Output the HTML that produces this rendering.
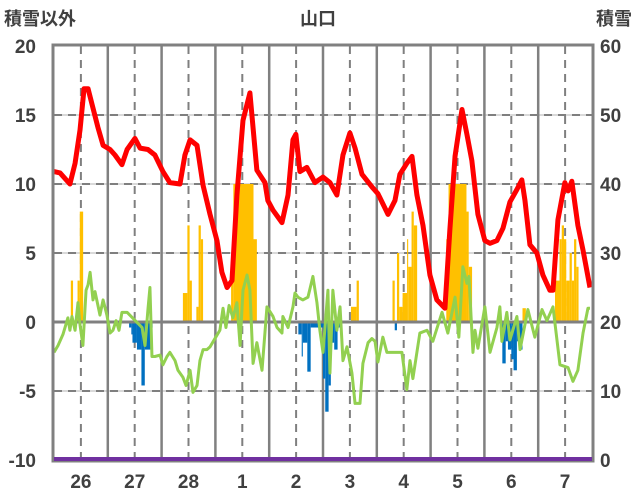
<!DOCTYPE html>
<html><head><meta charset="utf-8">
<style>
body{margin:0;background:#fff;}
svg{display:block;}
text{font-family:"Liberation Sans","Noto Sans CJK JP",sans-serif;fill:#404040;font-weight:600;}
</style></head>
<body>
<svg id="chart" width="636" height="501">
<text x="4" y="25" font-size="18">積雪以外</text>
<text x="318" y="25" font-size="18" text-anchor="middle">山口</text>
<text x="632" y="25" font-size="18" text-anchor="end">積雪</text>
<g id="grid"></g><g id="bars"></g><g id="lines"></g><g id="axes"></g>
</svg>
<script>
const dayLabels=["26","27","28","1","2","3","4","5","6","7"];
const leftTicks=[20,15,10,5,0,-5,-10];
const rightTicks=[60,50,40,30,20,10,0];
const redHours=[0,2.7,7.1,9.4,11.6,13.4,15.2,17.4,19.6,21.9,25,27.2,30.3,32.6,36.1,38.4,41.9,45,48.6,51.7,56.2,58.4,60.7,63.8,66.5,69.6,72.7,74.9,77.2,79.4,81.6,84.3,87.4,90.5,94.1,95.4,97.7,101.7,104.4,106.6,107.9,109.7,112.8,116.4,120,123.1,126.2,128.9,132,134.3,137.4,142.3,144.5,149,152.1,154.3,157.4,159.7,161.9,164.6,167.7,170.8,174.4,176.6,178.9,182,184.2,186.4,189.1,192.2,194.5,197.6,200.3,203.4,206.5,208.7,210.1,212.3,215.4,218.1,221.2,222.6,224.8,227.9,229.3,231,233.7,236,239.1];
const redVals=[10.9,10.8,10.0,11.5,13.9,16.9,16.9,15.5,14.1,12.8,12.5,12.1,11.4,12.5,13.3,12.6,12.5,12.1,10.9,10.1,10.0,12.1,13.2,12.8,9.9,7.8,5.9,3.6,2.5,3.0,9.2,14.6,16.6,11.0,10.1,8.8,8.1,7.2,9.2,13.2,13.6,10.9,11.2,10.1,10.5,10.1,9.2,12.1,13.7,12.6,10.7,9.7,9.3,7.8,8.8,10.7,11.5,12.0,9.2,7.0,3.4,1.6,1.0,6.7,12.0,15.4,13.6,11.7,7.8,5.9,5.7,5.9,6.8,8.7,9.6,10.3,8.8,5.6,5.0,3.4,2.3,2.3,7.4,10.1,9.5,10.2,7.0,5.2,2.5];
const greenHours=[0,1.8,4,6.2,7.1,8,9.4,10.7,11.6,12.9,14.3,15.2,16.1,17.4,18.3,19.6,20.5,21.9,23.6,25,26.3,27.7,29,30.3,32.6,39.3,40.6,41.9,42.8,43.7,45,47.3,48.6,50.4,51.7,54,55.3,57.5,58.9,60.7,62,63.8,65.1,66.5,68.2,69.6,71.8,74,75.4,76.7,78.1,79.8,81.6,83,84.3,86.1,87.4,88.8,90.5,92.8,95,97.7,99.5,101.7,102.1,104.4,106.6,107.5,108.8,111,113.3,115.5,117.3,118.6,120,122.2,123.1,124.4,126.2,127.6,128.9,130.7,132.9,134.3,136.5,137.8,140.1,141.8,143.2,144.5,146.7,148.5,153,155.2,157.4,158.8,160.1,163.2,166.4,169,173.1,175.7,178.9,180.6,182.4,184.2,185.1,186.9,187.8,189.1,192.2,194.5,197.6,198.9,199.8,202,203.4,206.5,207.9,211.4,214.5,217.7,219.9,222.6,225.7,229.3,231.5,233.7,236,238.2,239.1];
const greenVals=[-2.2,-1.7,-0.9,0.3,-0.6,0.4,-0.6,1.4,-0.2,-1.7,2.3,2.7,3.6,1.6,2.2,1.2,0.5,1.6,0.5,-0.8,-0.6,0.1,-0.6,0.7,0.7,-0.4,-1.7,0.9,2.5,-2.5,-2.5,-2.4,-3.1,-2.5,-2.2,-2.8,-3.5,-4.0,-4.6,-3.5,-5.1,-4.6,-2.8,-2.0,-2.0,-1.8,-1.2,-0.6,1.0,-0.4,1.2,0.3,1.4,-1.7,2.3,3.4,2.3,-3.0,-1.5,-3.5,1.1,0.4,-0.4,-0.8,0.4,-0.4,1.1,2.1,1.8,1.6,1.8,3.3,1.4,-0.6,-2.2,2.3,-3.7,2.3,-0.6,1.1,-2.8,-1.8,-3.7,-5.9,-5.9,-3.0,-1.5,-1.2,-1.4,-2.9,-1.1,-2.2,-2.2,-2.2,-4.9,-2.8,-4.1,-0.8,-0.6,-1.4,0.7,-0.8,1.8,-1.1,4.0,2.8,3.3,-2.2,-0.6,-1.9,1.1,-2.2,-0.4,1.1,-1.4,0.7,-1.3,0.4,-2.0,0.9,-1.1,0.9,0.1,1.1,-3.1,-3.3,-4.3,-3.5,-0.8,1.0,1.0];
const barFrom=[7.5,10.5,11.5,57.5,59.5,60.5,63.5,64.5,65.5,79,80,89,132.5,135,151,153,154,155.5,157.5,158,159.5,160.5,175,176,184,185,209,223.5,225.5,226.5,227.5,228.5,230,231,232,233,33.5,34.5,35,37,39,40.5,43,109,110.5,111,113,114.5,120,121,122.5,123.5,125,126.5,152,200,201.5,202.5,204,205,206.5,207.5];
const barTo=[8.5,11.5,13,59.5,60.5,61.5,64.5,65.5,66.5,80,89,90.5,135,136,152,154,155.5,157.5,158,159.5,160.5,162,176,184,185,186.5,210.5,225.5,226.5,227.5,228.5,230,231,232,233,234,34.5,35,37,39,40.5,43,44,110.5,111,113,114.5,120,121,122.5,123.5,125,126.5,127.5,153,201.5,202.5,204,205,206.5,207.5,209];
const barVals=[3,3,8,2.1,7,3,1.1,7,6,3,10,6,1.1,3,3,5,1.1,2.1,6,4,8,7,6,10,8,4,1,3,6,7,6,3,5,3,6,4,-0.4,-0.9,-1.5,-2,-4.6,-2,-0.4,-0.9,-2.5,-1.5,-3.6,-0.4,-4.1,-6.5,-4.6,-1.5,-2,-0.4,-0.6,-3,-1.4,-2,-2.7,-3.5,-1.4,-2];
const snowHours=[0,240];
const snowVals=[0,0];

const NS="http://www.w3.org/2000/svg";
const L=54,R=592,T=46,B=460,H0=240;
const xs=h=>L+h*(R-L)/H0;
const yL=v=>T+(20-v)*(B-T)/30;
const yR=v=>T+(60-v)*(B-T)/60;
function mk(tag,attrs,parent){const e=document.createElementNS(NS,tag);for(const k in attrs)e.setAttribute(k,attrs[k]);parent.appendChild(e);return e;}
const grid=document.getElementById('grid'),bars=document.getElementById('bars'),lines=document.getElementById('lines'),axes=document.getElementById('axes');
leftTicks.forEach((v,i)=>{
  const y=yL(v);
  if(v!==0&&v!==20&&v!==-10){
    const u=mk('line',{x1:L,x2:R,y1:y,y2:y,stroke:'#d9d9d9','stroke-width':2},grid);
    
    
    const g=mk('line',{x1:L,x2:R,y1:y,y2:y,stroke:'#7f7f7f','stroke-width':2,'stroke-dasharray':'8,6'},grid);
    
    
  }
  const t=mk('text',{x:36,y:y+7,'font-size':19,'text-anchor':'end'},axes);t.textContent=v;
  
  
});
rightTicks.forEach(v=>{
  const t=mk('text',{x:600,y:yR(v)+7,'font-size':19},axes);t.textContent=v;
  
  
});
dayLabels.forEach((d,i)=>{
  const xc=xs(i*24+12);
  const g=mk('line',{x1:xc,x2:xc,y1:T,y2:B,stroke:'#7f7f7f','stroke-width':2,'stroke-dasharray':'8,6'},grid);
  
  
  if(i>0){const s=mk('line',{x1:xs(i*24),x2:xs(i*24),y1:T,y2:B,stroke:'#808080','stroke-width':2.5},grid);
    
    }
  const t=mk('text',{x:xc,y:488,'font-size':19,'text-anchor':'middle'},axes);t.textContent=d;
  
  
});
barVals.forEach((v,i)=>{
  const x1=xs(barFrom[i]),x2=xs(barTo[i]);
  const y0=yL(0),y1=yL(v);
  const r=mk('rect',{x:x1,y:Math.min(y0,y1),width:x2-x1,height:Math.abs(y1-y0),fill:v>0?'#FFC000':'#0070C0'},bars);
  
  
});
const z=mk('line',{x1:L,x2:R,y1:yL(0),y2:yL(0),stroke:'#808080','stroke-width':3},lines);


const gp=mk('polyline',{points:greenHours.map((h,i)=>xs(h)+','+yL(greenVals[i])).join(' '),fill:'none',stroke:'#92D050','stroke-width':3,'stroke-linejoin':'round'},lines);


const rp=mk('polyline',{points:redHours.map((h,i)=>xs(h)+','+yL(redVals[i])).join(' '),fill:'none',stroke:'#FF0000','stroke-width':5,'stroke-linejoin':'round'},lines);


const fr=mk('rect',{x:L-1,y:T-1,width:R-L+2,height:B-T+2,fill:'none',stroke:'#808080','stroke-width':3},axes);


const sp=mk('polyline',{points:snowHours.map((h,i)=>xs(h)+','+(yR(snowVals[i])-1)).join(' '),fill:'none',stroke:'#7030A0','stroke-width':4},axes);


</script>
</body></html>
